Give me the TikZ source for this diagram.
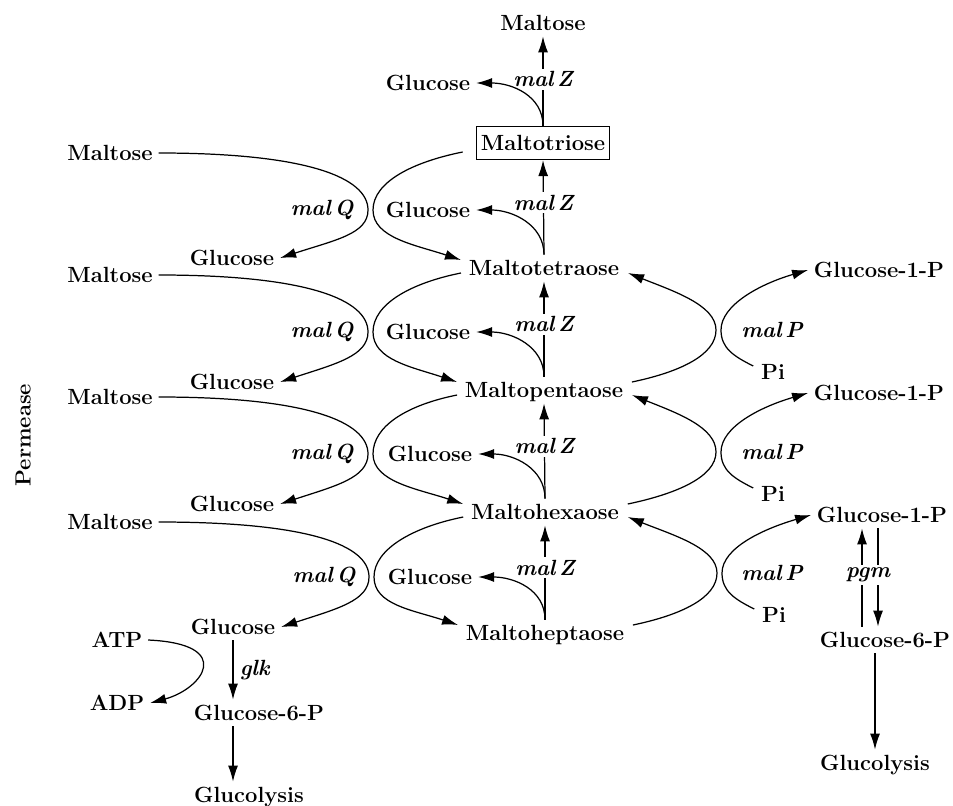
\documentclass[tikz,border=0pt]{standalone}
\usepackage{tikz}
\usetikzlibrary{
  arrows.meta, % Latex arrow tips
  calc,        % anchor offsets
  positioning  % relative placement
}

\begin{document}
\begin{tikzpicture}[x=0.2mm, y=-0.2mm, line width=0.7pt,
  >={Latex[length=3.2mm,width=2mm]},
  met/.style={font=\fontsize{12.5}{15}\selectfont\bfseries, inner sep=3pt,
    text height=8.6pt, text depth=0pt},
  gene/.style={font=\fontsize{12.5}{15}\selectfont\bfseries\itshape,
    fill=white, inner sep=1.5pt},
  chainbox/.style={met, draw, line width=0.9pt, inner ysep=5pt, inner xsep=2.5pt}]

  \useasboundingbox (0,0) rectangle (953,805);

  % =========== maltodextrin chain (centre column) ===========
  \node[met]      (maltTop) at (543,23)  {Maltose};
  \node[chainbox] (triose)  at (543,143) {Maltotriose};
  \node[met]      (tetra)   at (544,268) {Maltotetraose};
  \node[met]      (penta)   at (544,390) {Maltopentaose};
  \node[met]      (hexa)    at (545,512) {Maltohexaose};
  \node[met]      (hepta)   at (545,633) {Maltoheptaose};

  % glucose set free by malZ
  \node[met] (gluZ0) at (428,83)  {Glucose};
  \node[met] (gluZ1) at (428,210) {Glucose};
  \node[met] (gluZ2) at (428,332) {Glucose};
  \node[met] (gluZ3) at (430,454) {Glucose};
  \node[met] (gluZ4) at (430,577) {Glucose};

  % malZ steps: vertical arrow with label, side branch to glucose
  \draw[->] (triose.north) -- (maltTop.south) node[gene, pos=0.52] {mal\,Z};
  \draw[->] (triose.north) .. controls +(0,-30) and +(36,0) .. (gluZ0.east);

  \draw[->] (tetra.north) -- (triose.south) node[gene, pos=0.55] {mal\,Z};
  \draw[->] (tetra.north) .. controls +(0,-30) and +(36,0) .. (gluZ1.east);

  \draw[->] (penta.north) -- (tetra.south) node[gene, pos=0.55] {mal\,Z};
  \draw[->] (penta.north) .. controls +(0,-30) and +(36,0) .. (gluZ2.east);

  \draw[->] (hexa.north) -- (penta.south) node[gene, pos=0.55] {mal\,Z};
  \draw[->] (hexa.north) .. controls +(0,-30) and +(36,0) .. (gluZ3.east);

  \draw[->] (hepta.north) -- (hexa.south) node[gene, pos=0.55] {mal\,Z};
  \draw[->] (hepta.north) .. controls +(0,-30) and +(36,0) .. (gluZ4.east);

  % =========== malQ (left side) ===========
  \node[met, rotate=90] (perm) at (23,435) {Permease};

  \node[met] (maltL1) at (110,153) {Maltose};
  \node[met] (maltL2) at (110,275) {Maltose};
  \node[met] (maltL3) at (110,397) {Maltose};
  \node[met] (maltL4) at (110,522) {Maltose};

  \node[met] (gluL1) at (232,258) {Glucose};
  \node[met] (gluL2) at (232,382) {Glucose};
  \node[met] (gluL3) at (232,504) {Glucose};
  \node[met] (gluL4) at (233,627) {Glucose};

  \node[gene] (malQ1) at (322,210) {mal\,Q};
  \node[gene] (malQ2) at (322,332) {mal\,Q};
  \node[gene] (malQ3) at (322,454) {mal\,Q};
  \node[gene] (malQ4) at (324,577) {mal\,Q};

  % pinch points of the crossings
  \coordinate (qa1) at (368,210); \coordinate (qb1) at (373,210);
  \coordinate (qa2) at (368,332); \coordinate (qb2) at (373,332);
  \coordinate (qa3) at (368,454); \coordinate (qb3) at (373,454);
  \coordinate (qa4) at (369,577); \coordinate (qb4) at (374,577);

  % maltose -> glucose
  \draw[->] (maltL1.east) .. controls +(150,0) and +(0,-32) .. (qa1)
            .. controls +(0,24) and +(55,-18) .. (gluL1.east);
  \draw[->] (maltL2.east) .. controls +(150,0) and +(0,-32) .. (qa2)
            .. controls +(0,24) and +(55,-18) .. (gluL2.east);
  \draw[->] (maltL3.east) .. controls +(150,0) and +(0,-32) .. (qa3)
            .. controls +(0,24) and +(55,-18) .. (gluL3.east);
  \draw[->] (maltL4.east) .. controls +(150,0) and +(0,-32) .. (qa4)
            .. controls +(0,24) and +(55,-18) .. (gluL4.east);

  % chain n -> chain n+1
  \draw[->] ($(triose.west)+(-13,9)$) .. controls +(-50,10) and +(0,-28) .. (qb1)
            .. controls +(0,28) and +(-45,-15) .. ($(tetra.west)+(-2,-8)$);
  \draw[->] ($(tetra.west)+(-2,5)$) .. controls +(-50,10) and +(0,-28) .. (qb2)
            .. controls +(0,28) and +(-45,-15) .. ($(penta.west)+(-2,-8)$);
  \draw[->] ($(penta.west)+(-2,5)$) .. controls +(-50,10) and +(0,-28) .. (qb3)
            .. controls +(0,28) and +(-45,-15) .. ($(hexa.west)+(-2,-8)$);
  \draw[->] ($(hexa.west)+(-2,5)$) .. controls +(-50,10) and +(0,-28) .. (qb4)
            .. controls +(0,28) and +(-45,-15) .. ($(hepta.west)+(-2,-8)$);

  % =========== malP (right side) ===========
  \node[met] (g1p1) at (879,270) {Glucose-1-P};
  \node[met] (g1p2) at (879,393) {Glucose-1-P};
  \node[met] (g1p3) at (882,515) {Glucose-1-P};

  \node[gene] (malP1) at (772,330) {mal\,P};
  \node[gene] (malP2) at (772,452) {mal\,P};
  \node[gene] (malP3) at (772,573) {mal\,P};

  \node[met] (pi1) at (773,372) {Pi};
  \node[met] (pi2) at (773,494) {Pi};
  \node[met] (pi3) at (774,615) {Pi};

  \coordinate (pa1) at (716,330); \coordinate (pb1) at (721,330);
  \coordinate (pa2) at (716,452); \coordinate (pb2) at (721,452);
  \coordinate (pa3) at (717,573); \coordinate (pb3) at (722,573);

  % chain n+1 -> chain n
  \draw[->] ($(penta.east)+(3,-8)$) .. controls +(48,-10) and +(0,25) .. (pa1)
            .. controls +(0,-25) and +(45,18) .. ($(tetra.east)+(3,5)$);
  \draw[->] ($(hexa.east)+(3,-8)$) .. controls +(48,-10) and +(0,25) .. (pa2)
            .. controls +(0,-25) and +(45,18) .. ($(penta.east)+(3,5)$);
  \draw[->] ($(hepta.east)+(3,-8)$) .. controls +(48,-10) and +(0,25) .. (pa3)
            .. controls +(0,-25) and +(45,18) .. ($(hexa.east)+(3,5)$);

  % Pi -> glucose-1-P
  \draw[->] ($(pi1.west)+(-2,-6)$) .. controls +(-20,-10) and +(0,18) .. (pb1)
            .. controls +(0,-25) and +(-48,14) .. (g1p1.west);
  \draw[->] ($(pi2.west)+(-2,-6)$) .. controls +(-20,-10) and +(0,18) .. (pb2)
            .. controls +(0,-25) and +(-48,14) .. (g1p2.west);
  \draw[->] ($(pi3.west)+(-2,-6)$) .. controls +(-20,-10) and +(0,18) .. (pb3)
            .. controls +(0,-25) and +(-48,14) .. (g1p3.west);

  % =========== glk (bottom left) ===========
  \node[met] (atp)  at (117,640) {ATP};
  \node[met] (adp)  at (117,703) {ADP};
  \node[met] (g6pL) at (259,713) {Glucose-6-P};
  \node[met] (glyL) at (249,795) {Glucolysis};

  \draw[->] (gluL4.south) -- (gluL4.south |- g6pL.north)
            node[gene, midway, right, xshift=2pt] {glk};
  \draw[->] (atp.east) .. controls +(88,4) and +(52,-14) .. (adp.east);
  \draw[->] (gluL4.south |- g6pL.south) -- (gluL4.south |- glyL.north);

  % =========== pgm (bottom right) ===========
  \node[met] (g6pR) at (885,640) {Glucose-6-P};
  \node[met] (glyR) at (875,763) {Glucolysis};

  \coordinate (pgmUp) at (862,0);
  \coordinate (pgmDn) at (878,0);
  \draw[->] (pgmUp |- g6pR.north) -- (pgmUp |- g1p3.south);
  \draw[->] (pgmDn |- g1p3.south) -- (pgmDn |- g6pR.north);
  \node[gene] (pgm) at (868,575) {pgm};
  \draw[->] (glyR.north |- g6pR.south) -- (glyR.north);

\end{tikzpicture}
\end{document}
